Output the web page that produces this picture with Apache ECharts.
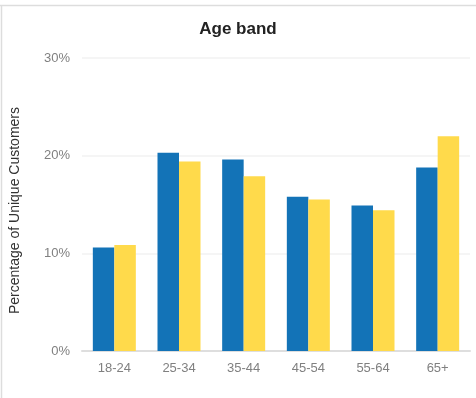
<!DOCTYPE html>
<html>
<head>
<meta charset="utf-8">
<script src="https://cdn.jsdelivr.net/npm/echarts@6/dist/echarts.min.js"></script>
<style>
html,body{margin:0;padding:0;background:#fff;}
#chart{width:476px;height:398px;}
</style>
</head>
<body>
<div id="chart"></div>
<script>
const categories = ['18-24','25-34','35-44','45-54','55-64','65+'];
const seriesA = [10.6, 20.3, 19.6, 15.8, 14.9, 18.8];
const seriesB = [10.85, 19.4, 17.9, 15.5, 14.4, 22.0];
const yTicks = [0, 10, 20, 30];

const chart = echarts.init(document.getElementById('chart'));
chart.setOption({
  backgroundColor: '#fff',
  animation: false,
  title: {
    text: 'Age band', left: 'center', top: 16,
    textStyle: {fontFamily: 'Liberation Sans, Arial, sans-serif', fontSize: 17, fontWeight: 'bold', color: '#222'}
  },
  graphic: [
    {type: 'line', shape: {x1: 0, y1: 5.5, x2: 476, y2: 5.5}, style: {stroke: '#dddddd', lineWidth: 1.5}},
    {type: 'line', shape: {x1: 1.5, y1: 5, x2: 1.5, y2: 398}, style: {stroke: '#dddddd', lineWidth: 1.5}}
  ],
  grid: {left: 80, right: 6, top: 58, bottom: 47},
  xAxis: {
    type: 'category', data: categories,
    axisLine: {lineStyle: {color: '#dedede', width: 2}},
    axisTick: {show: false},
    axisLabel: {color: '#808080', fontSize: 13, margin: 11, fontFamily: 'Liberation Sans, Arial, sans-serif'}
  },
  yAxis: {
    type: 'value', min: yTicks[0], max: yTicks[yTicks.length-1], interval: 10,
    name: 'Percentage of Unique Customers', nameLocation: 'middle', nameGap: 60,
    nameTextStyle: {color: '#333', fontSize: 14, fontFamily: 'Liberation Sans, Arial, sans-serif', padding: [0, 0, 0, -12]},
    axisLine: {show: false}, axisTick: {show: false},
    axisLabel: {color: '#808080', fontSize: 13, margin: 12, formatter: '{value}%', fontFamily: 'Liberation Sans, Arial, sans-serif'},
    splitLine: {lineStyle: {color: '#f2f2f2', width: 1.5}}
  },
  series: [
    {type: 'bar', data: seriesA, barWidth: 21.5, barGap: '0%', itemStyle: {color: '#1373b7'}},
    {type: 'bar', data: seriesB, barWidth: 21.5, itemStyle: {color: '#ffda4b'}}
  ]
});
</script>
</body>
</html>
